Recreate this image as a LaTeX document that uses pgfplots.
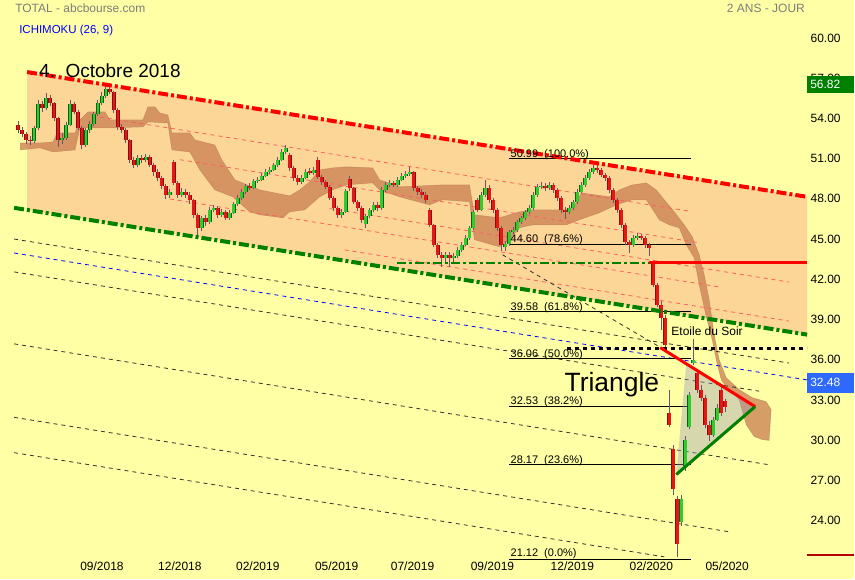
\documentclass[border=0pt]{standalone}
\usepackage{fontspec}
\setmainfont{Liberation Sans}
\usepackage{pgfplots}
\pgfplotsset{compat=1.18}
\usepackage{pgfplotstable}

\definecolor{bgyellow}{RGB}{255,255,165}
\definecolor{channel}{RGB}{252,214,150}
\definecolor{kumo}{RGB}{205,130,85}
\definecolor{upgreen}{RGB}{45,205,45}
\definecolor{dnred}{RGB}{230,22,22}
\definecolor{wick}{RGB}{105,85,105}
\definecolor{chgreen}{RGB}{0,128,0}
\definecolor{pxblue}{RGB}{45,105,255}
\definecolor{labgray}{RGB}{125,125,125}
\definecolor{salmon}{RGB}{250,95,95}
\definecolor{dashgray}{RGB}{50,50,50}
\definecolor{darkred}{RGB}{180,0,0}

% candles: x = bar position, o h l c = open high low close
\pgfplotstableread{
x o h l c
34 52.32 53.45 52.20 53.29
38 53.29 55.40 53.10 55.08
46 54.78 55.90 54.60 55.53
62 52.40 52.90 52.10 52.55
66 52.55 53.70 52.40 53.51
70 53.51 55.35 53.40 55.08
86 52.02 53.30 51.90 53.14
90 53.14 53.80 52.95 53.59
94 53.59 54.50 53.45 54.33
98 54.33 55.35 54.20 55.15
102 55.15 55.95 55.00 55.68
106 55.68 56.45 55.55 56.20
138 50.53 51.25 50.35 51.06
146 50.91 51.35 50.75 51.13
170 48.30 48.70 48.10 48.52
182 48.30 48.80 48.15 48.52
202 45.84 46.75 45.60 46.59
210 46.29 47.40 46.15 47.18
214 47.18 47.55 47.00 47.33
222 46.81 47.25 46.65 47.03
230 46.59 47.15 46.45 46.96
234 46.96 47.80 46.85 47.63
238 47.63 48.30 47.50 48.08
242 48.08 48.70 47.95 48.52
246 48.52 49.10 48.35 48.97
254 48.82 49.50 48.70 49.34
258 49.34 49.65 49.20 49.42
262 49.42 49.90 49.30 49.71
266 49.71 50.20 49.60 50.01
270 50.01 50.40 49.85 50.16
274 50.16 50.70 50.05 50.53
278 50.53 51.10 50.40 50.91
282 50.91 51.75 50.80 51.50
286 51.50 52.05 51.35 51.80
302 49.27 49.80 49.10 49.57
306 49.57 50.20 49.45 50.01
314 49.95 50.40 49.80 50.16
342 46.81 47.25 46.60 47.03
346 47.03 48.75 46.95 48.60
366 46.10 46.90 45.85 46.70
370 46.70 47.35 46.55 47.18
374 47.18 47.75 47.00 47.55
382 47.30 48.85 47.20 48.67
386 48.67 49.25 48.50 49.04
390 49.04 49.40 48.90 49.19
398 49.04 49.60 48.90 49.42
402 49.42 49.95 49.30 49.71
406 49.71 50.10 49.55 49.86
410 49.86 50.35 49.70 50.01
446 43.60 44.05 43.30 43.83
454 43.60 43.95 43.30 43.75
458 43.75 44.40 43.55 44.20
462 44.20 44.80 44.05 44.57
466 44.57 45.30 44.45 45.09
470 45.09 46.00 44.95 45.84
474 45.84 47.20 45.70 47.03
482 47.20 48.50 47.10 48.30
486 48.30 49.40 48.15 48.82
506 44.40 44.85 44.10 44.65
510 44.65 45.70 44.50 45.54
514 45.54 45.90 45.35 45.69
518 45.69 46.45 45.55 46.29
522 46.29 46.75 46.10 46.59
526 46.59 47.20 46.45 47.03
530 47.03 47.55 46.90 47.33
534 47.33 48.50 47.20 48.30
538 48.30 49.10 48.15 48.90
542 48.90 49.25 48.75 48.97
550 48.82 49.25 48.65 49.04
570 47.03 47.55 46.85 47.33
574 47.33 47.95 47.15 47.78
578 47.78 48.70 47.65 48.52
582 48.52 49.25 48.40 49.04
586 49.04 49.75 48.90 49.57
590 49.57 50.20 49.40 50.01
594 50.01 50.55 49.85 50.31
634 44.57 45.30 44.40 45.09
638 45.09 45.45 44.95 45.24
682 23.86 25.90 23.60 25.57
686 28.03 30.30 27.70 30.04
690 31.01 33.60 30.80 33.39
694 35.78 37.57 35.60 36.00
714 30.41 31.75 30.25 31.53
718 31.53 32.70 31.40 32.43
}\upC

\pgfplotstableread{
x o h l c
18 53.50 53.80 52.95 53.14
22 53.14 53.35 52.60 52.84
26 52.84 53.00 52.10 52.40
30 52.40 52.70 52.00 52.32
42 55.08 55.30 54.50 54.78
50 55.53 55.75 54.95 55.15
54 55.15 55.25 53.80 54.04
58 54.04 54.10 51.90 52.40
74 55.08 55.25 54.30 54.48
78 54.48 54.60 53.10 53.29
82 53.29 53.40 51.70 52.02
110 56.20 56.40 55.80 55.97
114 55.97 56.05 54.40 54.63
118 54.63 54.75 53.15 53.37
122 53.37 53.60 52.90 53.14
126 53.14 53.30 52.20 52.40
130 52.40 52.50 50.70 50.91
134 50.91 51.10 50.30 50.53
142 51.06 51.30 50.70 50.91
150 51.13 51.25 50.35 50.53
154 50.53 50.70 49.70 50.01
158 50.01 50.20 49.30 49.57
162 49.57 49.70 48.70 48.97
166 48.97 49.10 48.00 48.30
174 50.76 50.90 49.00 49.19
178 49.19 49.30 48.10 48.30
186 48.52 48.75 48.05 48.30
190 48.30 48.50 47.60 47.93
194 47.93 48.00 46.60 46.81
198 46.81 46.95 45.20 45.84
206 46.59 46.80 46.00 46.29
218 47.33 47.45 46.60 46.81
226 47.03 47.15 46.40 46.59
250 48.97 49.15 48.65 48.82
290 51.30 51.40 50.10 50.31
294 50.31 50.45 49.35 49.57
298 49.57 49.75 49.05 49.27
310 50.10 50.30 49.80 49.95
318 50.90 51.10 49.45 49.60
322 49.60 49.75 49.05 49.27
326 49.27 49.40 48.70 48.90
330 48.90 49.00 47.90 48.08
334 48.08 48.20 47.10 47.33
338 47.33 47.45 46.60 46.81
350 49.50 49.70 48.60 48.80
354 48.80 48.90 47.60 47.78
358 47.78 47.90 47.10 47.33
362 47.33 47.45 46.20 46.44
378 47.55 47.80 47.10 47.30
394 49.19 49.35 48.85 49.04
414 50.01 50.10 48.60 48.82
418 48.82 48.95 48.30 48.52
422 48.52 48.70 48.10 48.30
426 48.30 48.50 47.70 47.93
430 47.20 47.30 45.90 46.06
434 46.06 46.15 44.40 44.57
438 44.57 44.70 43.60 43.83
442 43.83 44.00 42.95 43.60
450 43.83 44.00 42.95 43.60
478 47.95 48.10 47.00 47.20
490 48.82 49.00 47.70 47.93
494 47.93 48.05 46.95 47.18
498 47.18 47.30 45.60 45.84
502 45.84 45.95 44.10 44.57
546 48.97 49.15 48.60 48.82
554 49.04 49.20 48.45 48.67
558 48.67 48.80 47.85 48.08
562 48.08 48.20 46.95 47.18
566 47.18 47.40 46.50 47.03
598 50.31 50.50 49.95 50.16
602 50.16 50.30 49.60 49.79
606 49.79 49.95 49.35 49.57
610 49.57 49.70 48.45 48.67
614 48.67 48.80 47.70 47.93
618 47.93 48.05 46.95 47.18
622 47.18 47.30 45.85 46.06
626 46.06 46.20 44.55 44.80
630 44.80 44.95 43.95 44.57
642 45.24 45.40 44.90 45.09
646 45.09 45.20 44.35 44.57
650 44.57 44.70 43.70 44.35
654 43.20 43.35 41.40 41.59
658 41.59 41.70 39.90 40.10
662 40.10 40.40 38.20 39.13
666 39.13 39.30 36.90 37.12
670 32.05 33.77 30.95 31.16
674 29.30 29.60 25.90 26.32
678 25.57 25.80 21.30 22.22
698 35.03 35.30 33.50 33.77
702 33.77 34.10 32.90 33.17
706 33.17 33.40 30.90 31.16
710 31.16 31.40 29.95 30.41
722 33.77 34.00 31.80 32.05
726 32.90 33.10 32.10 32.48
}\dnC

\pgfplotsset{
  wicks/.style={wick, line width=1pt, line cap=butt,
    quiver={u=0, v=\thisrow{h}-\thisrow{l}}},
  bodies/.style={#1, line width=4pt, line cap=butt,
    quiver={u=0, v=\thisrow{c}-\thisrow{o}}},
  thindash/.style={line width=0.8pt, dash pattern=on 4pt off 4pt},
}

\begin{document}
\begin{tikzpicture}
\fill[bgyellow] (0,0) rectangle (855pt,580pt);
\begin{axis}[
  at={(0pt,20pt)}, anchor=south west, scale only axis,
  width=808pt, height=560pt,
  xmin=0, xmax=808, ymin=21.10, ymax=62.83,
  clip=false,
  axis line style={draw=none},
  major tick length=0pt,
  xtick={102,180,258,337,413,493,573,652,728},
  xticklabels={09/2018,12/2018,02/2019,05/2019,07/2019,09/2019,12/2019,02/2020,05/2020},
  ytick={24,27,...,60},
  yticklabel pos=right,
  /pgf/number format/assume math mode=true,
  yticklabel style={/pgf/number format/.cd, fixed, fixed zerofill, precision=2},
  tick label style={font=\fontsize{12}{14}\selectfont, text=black},
  xticklabel style={yshift=1pt},
]

% regression channel
\addplot[fill=channel, draw=none] coordinates {(27,57.46) (808,48.15) (808,37.87) (27,47.17)};

% ichimoku cloud
\addplot[fill=kumo, fill opacity=0.78, draw=kumo!70!black, draw opacity=0.35, line width=0.5pt] coordinates {
(20,52.17) (40,52.17) (53,52.25) (57,52.92) (75,52.92) (80,53.89) (88,54.48) (105,54.48)
(110,53.89) (143,53.89) (148,54.86) (155,54.86) (160,54.41) (168,54.26) (172,52.92) (190,52.92)
(195,52.40) (215,52.02) (222,50.91) (235,49.42) (260,48.67) (290,48.22) (300,48.67) (310,49.27)
(320,50.16) (333,50.31) (347,50.39) (373,50.31) (380,49.42) (400,48.90) (443,49.04) (470,49.04)
(475,46.81) (500,46.59) (520,47.03) (533,47.18) (567,47.18) (575,47.48) (582,48.45) (610,48.15)
(620,48.67) (633,49.04) (647,49.19) (657,48.67) (665,47.93) (675,47.03) (685,46.06) (693,45.17)
(700,43.83) (705,42.34) (710,40.47) (715,37.87) (720,36.00) (727,34.66) (740,33.77) (753,33.17)
(767,32.87) (772,32.28)
(770,29.97) (763,30.04) (755,30.27) (747,31.16) (740,33.02) (727,33.99) (722,34.51) (717,36.00)
(713,37.49) (707,39.21) (700,41.59) (695,43.60) (687,44.57) (680,45.84) (670,46.06) (660,46.44)
(655,47.03) (647,47.93) (633,47.93) (617,47.55) (600,46.96) (580,46.44) (567,46.06) (533,46.06)
(520,45.84) (510,44.95) (500,44.42) (475,44.95) (470,47.78) (443,47.93) (430,47.55) (400,48.15)
(380,48.67) (373,49.19) (347,49.04) (333,48.67) (320,48.15) (305,47.18) (290,47.03) (283,46.59)
(260,46.81) (250,47.03) (233,48.15) (215,48.67) (200,50.16) (190,51.50) (172,51.65) (168,53.66)
(148,53.74) (143,53.37) (110,53.29) (80,53.29) (75,51.65) (53,51.50) (40,51.80) (20,51.65)};

% thin channel subdivisions
\addplot[salmon, thindash] coordinates {(100,54.11) (690,47.08)};
\addplot[salmon, thindash] coordinates {(180,50.92) (700,44.72)};
\addplot[salmon, thindash] coordinates {(170,47.99) (720,41.43)};
\addplot[salmon, thindash] coordinates {(330,47.27) (790,41.79)};
\addplot[salmon, thindash] coordinates {(345,44.19) (790,38.88)};

% lines below the channel
\addplot[dashgray, thindash] coordinates {(14,45.00) (790,35.75)};
\addplot[blue, thindash] coordinates {(14,43.96) (808,34.49)};
\addplot[dashgray, thindash] coordinates {(14,42.55) (760,33.65)};
\addplot[dashgray, thindash] coordinates {(14,37.18) (770,28.16)};
\addplot[dashgray, thindash] coordinates {(14,31.70) (730,23.16)};
\addplot[dashgray, thindash] coordinates {(14,29.06) (665,21.29)};
\addplot[dashgray, thindash] coordinates {(503,43.83) (660,36.97)};

% fibonacci levels
\addplot[black, line width=0.8pt] coordinates {(510,50.99) (692,50.99)};
\addplot[black, line width=0.8pt] coordinates {(510,44.60) (692,44.60)};
\addplot[black, line width=0.8pt] coordinates {(510,39.58) (692,39.58)};
\addplot[black, line width=0.8pt] coordinates {(510,36.06) (692,36.06)};
\addplot[black, line width=0.8pt] coordinates {(510,32.53) (692,32.53)};
\addplot[black, line width=0.8pt] coordinates {(510,28.17) (692,28.17)};
\addplot[black, line width=0.8pt] coordinates {(510,21.12) (692,21.12)};

% triangle area
\addplot[fill={rgb,255:red,150;green,150;blue,190}, fill opacity=0.38, draw=none] coordinates {(687,35.70) (677,27.43) (756,32.50)};

% candles: wicks, then dark edge and bright body
\addplot[wicks] table[x=x, y=l] {\upC};
\addplot[wicks] table[x=x, y=l] {\dnC};
\addplot[bodies=upgreen!45!black] table[x=x, y=o] {\upC};
\addplot[bodies=dnred!60!black] table[x=x, y=o] {\dnC};
\addplot[bodies=upgreen, line width=2.8pt] table[x=x, y=o] {\upC};
\addplot[bodies=dnred, line width=2.8pt] table[x=x, y=o] {\dnC};

% channel borders and horizontal levels
\addplot[red, line width=4pt, dash pattern=on 10pt off 3pt on 3pt off 3pt] coordinates {(27,57.46) (808,48.15)};
\addplot[chgreen, line width=4pt, dash pattern=on 10pt off 3pt on 3pt off 3pt] coordinates {(14,47.33) (808,37.87)};
\addplot[chgreen, line width=2.5pt, dash pattern=on 9pt off 3pt on 3pt off 3pt] coordinates {(397,43.23) (650,43.23)};
\addplot[red, line width=3pt] coordinates {(650,43.23) (808,43.23)};
\addplot[black, line width=3.5pt, dash pattern=on 4pt off 4pt] coordinates {(568,36.83) (808,36.83)};

% triangle sides
\addplot[red, line width=3pt] coordinates {(661,36.90) (756,32.50)};
\addplot[chgreen, line width=3pt] coordinates {(677,27.43) (756,32.50)};

% texts
\node[anchor=base west, font=\fontsize{12}{14}\selectfont, text=labgray, inner sep=0pt] at (axis cs:15,61.88) {TOTAL - abcbourse.com};
\node[anchor=base east, font=\fontsize{12}{14}\selectfont, text=labgray, inner sep=0pt] at (axis cs:806,61.88) {2 ANS - JOUR};
\node[anchor=base west, font=\fontsize{11.5}{13}\selectfont, text=blue, inner sep=0pt] at (axis cs:19,60.37) {ICHIMOKU (26, 9)};
\node[anchor=base west, font=\fontsize{19}{22}\selectfont, inner sep=0pt] at (axis cs:39,57.09) {4.~~Octobre 2018};
\node[anchor=base west, font=\fontsize{26.5}{30}\selectfont, inner sep=0pt] at (axis cs:565,33.62) {Triangle};
\node[anchor=base west, font=\fontsize{12}{14}\selectfont, inner sep=0pt] at (axis cs:672,37.79) {Etoile du Soir};

\node[anchor=base west, font=\fontsize{11}{13}\selectfont, inner sep=0pt, yshift=1.5pt] at (axis cs:511,50.99) {50.99~~(100.0\%)};
\node[anchor=base west, font=\fontsize{11}{13}\selectfont, inner sep=0pt, yshift=1.5pt] at (axis cs:511,44.60) {44.60~~(78.6\%)};
\node[anchor=base west, font=\fontsize{11}{13}\selectfont, inner sep=0pt, yshift=1.5pt] at (axis cs:511,39.58) {39.58~~(61.8\%)};
\node[anchor=base west, font=\fontsize{11}{13}\selectfont, inner sep=0pt, yshift=1.5pt] at (axis cs:511,36.06) {36.06~~(50.0\%)};
\node[anchor=base west, font=\fontsize{11}{13}\selectfont, inner sep=0pt, yshift=1.5pt] at (axis cs:511,32.53) {32.53~~(38.2\%)};
\node[anchor=base west, font=\fontsize{11}{13}\selectfont, inner sep=0pt, yshift=1.5pt] at (axis cs:511,28.17) {28.17~~(23.6\%)};
\node[anchor=base west, font=\fontsize{11}{13}\selectfont, inner sep=0pt] at (axis cs:511,21.35) {21.12~~(0.0\%)};
\end{axis}

% high and last price boxes on the price scale
\fill[chgreen] (808pt,487pt) rectangle (855pt,504pt);
\node[anchor=west, text=white, font=\fontsize{12}{14}\selectfont, inner sep=0pt] at (811pt,495.5pt) {56.82};
\fill[pxblue] (808pt,187pt) rectangle (855pt,207pt);
\node[anchor=west, text=white, font=\fontsize{12}{14}\selectfont, inner sep=0pt] at (811pt,197pt) {32.48};
\draw[darkred, line width=2pt] (808pt,24pt) -- (855pt,24pt);
\end{tikzpicture}
\end{document}
